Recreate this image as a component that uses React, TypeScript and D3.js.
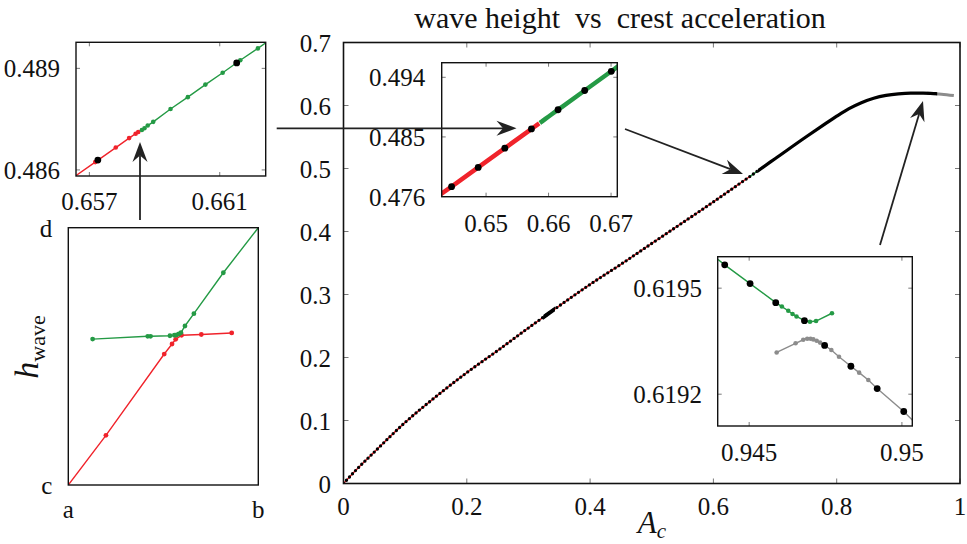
import * as d3 from "d3";
import type { ReactNode } from "react";

const FONT = "Liberation Serif, DejaVu Serif, serif";
const RED = "#f0232b";
const GREEN = "#249a45";
const GRAY = "#8c8c8c";

// ---- main branch: wave height against crest acceleration
const mainA = [0, 0.02, 0.05, 0.1, 0.15, 0.2, 0.25, 0.3, 0.35, 0.4, 0.45, 0.5, 0.55, 0.6, 0.65, 0.7, 0.75, 0.78, 0.8, 0.82, 0.84, 0.86, 0.88, 0.9, 0.92, 0.94, 0.96, 0.97, 0.99];
const mainH = [0, 0.021, 0.05, 0.097, 0.138, 0.176, 0.211, 0.247, 0.282, 0.316, 0.348, 0.381, 0.414, 0.447, 0.4811, 0.5155, 0.55, 0.57, 0.583, 0.595, 0.6045, 0.6115, 0.616, 0.6185, 0.6196, 0.6196, 0.6187, 0.618, 0.6158];

// where the branch changes colour / where the solutions get dense
const redEnd = 0.6585;
const greenEnd = 0.947;
const denseFrom = 0.672;
const denseTo = 0.963;
const clusterFrom = 0.324;
const clusterTo = 0.343;

// ---- close-up of the red -> green switch
const redA = [0.64, 0.64448, 0.64874, 0.653, 0.65718, 0.65781, 0.65822, 0.65842, 0.6585];
const redH = [0.4748, 0.47768, 0.48055, 0.48342, 0.48623, 0.48666, 0.48694, 0.48707, 0.48712];
const greenA = [0.65861, 0.65869, 0.65879, 0.65896, 0.65949, 0.66002, 0.66056, 0.66109, 0.66163, 0.66217, 0.66578, 0.67004, 0.674];
const greenH = [0.48718, 0.48723, 0.48731, 0.48742, 0.4878, 0.48815, 0.48852, 0.48887, 0.48924, 0.48959, 0.49203, 0.4949, 0.4976];
const coarseA = [0.64448, 0.64874, 0.653, 0.65726, 0.66152, 0.66578, 0.67004];
const coarseH = [0.47768, 0.48055, 0.48342, 0.48629, 0.48916, 0.49203, 0.4949];

// ---- close-up of the fold near the maximum
const foldGreenA = [0.94397, 0.9442, 0.94503, 0.94587, 0.94607, 0.94628, 0.94642, 0.94655, 0.94681, 0.94699, 0.94719, 0.94771];
const foldGreenH = [0.619582, 0.619566, 0.619513, 0.619459, 0.619448, 0.619436, 0.619427, 0.61942, 0.619408, 0.619405, 0.619407, 0.619429];
const foldGrayA = [0.9459, 0.94652, 0.94677, 0.9469, 0.94701, 0.9471, 0.94721, 0.94732, 0.94747, 0.94769, 0.94794, 0.94833, 0.9486, 0.9489, 0.94919, 0.95006, 0.95034];
const foldGrayH = [0.619318, 0.619344, 0.619354, 0.619357, 0.619357, 0.619355, 0.619351, 0.619346, 0.619338, 0.619325, 0.619306, 0.619279, 0.619261, 0.61924, 0.619216, 0.619151, 0.619127];
const foldBlackA = [0.9442, 0.94503, 0.94587, 0.94681, 0.94747, 0.94833, 0.94919, 0.95006];
const foldBlackH = [0.619566, 0.619513, 0.619459, 0.619408, 0.619338, 0.619279, 0.619216, 0.619151];

// ---- schematic of the two crossing branches (unit box)
const sketchRedX = [0, 0.198, 0.505, 0.546, 0.565, 0.596, 0.7, 0.86];
const sketchRedY = [0, 0.193, 0.509, 0.548, 0.566, 0.582, 0.585, 0.591];
const sketchGreenX = [0.128, 0.418, 0.433, 0.535, 0.558, 0.57, 0.582, 0.593, 0.614, 0.661, 0.816, 1];
const sketchGreenY = [0.567, 0.578, 0.578, 0.58, 0.582, 0.583, 0.587, 0.592, 0.618, 0.666, 0.825, 1];

// ---- ticks
const mainXTicks = [0, 0.2, 0.4, 0.6, 0.8, 1];
const mainXLabels = ["0", "0.2", "0.4", "0.6", "0.8", "1"];
const mainYTicks = [0, 0.1, 0.2, 0.3, 0.4, 0.5, 0.6, 0.7];
const mainYLabels = ["0", "0.1", "0.2", "0.3", "0.4", "0.5", "0.6", "0.7"];
const midXTicks = [0.65, 0.66, 0.67];
const midXLabels = ["0.65", "0.66", "0.67"];
const midYTicks = [0.4762, 0.4851, 0.494];
const midYLabels = ["0.476", "0.485", "0.494"];
const zoomXTicks = [0.657, 0.661];
const zoomXLabels = ["0.657", "0.661"];
const zoomYTicks = [0.486, 0.489];
const zoomYLabels = ["0.486", "0.489"];
const foldXTicks = [0.945, 0.95];
const foldXLabels = ["0.945", "0.95"];
const foldYTicks = [0.6192, 0.6195];
const foldYLabels = ["0.6192", "0.6195"];
const sketchXLabels = ["a", "b"];
const sketchYLabels = ["c", "d"];

type Pt = [number, number];
type Scale = d3.ScaleLinear<number, number>;
const zip = (a: number[], b: number[]): Pt[] => a.map((v, i) => [v, b[i]]);

type FrameProps = {
  id: string;
  x: Scale;
  y: Scale;
  xTicks: number[];
  xLabels: string[];
  yTicks: number[];
  yLabels: string[];
  tickLen: number;
  xGap: number;
  yGap: number;
  fontSize: number;
  stroke: number;
  children?: ReactNode;
};

// boxed axes with inward ticks on all four sides
function Frame(p: FrameProps) {
  const [left, right] = p.x.range();
  const [bottom, top] = p.y.range();
  const w = right - left;
  const h = bottom - top;
  return (
    <g>
      <defs>
        <clipPath id={p.id}>
          <rect x={left} y={top} width={w} height={h} />
        </clipPath>
      </defs>
      <rect x={left} y={top} width={w} height={h} fill="#fff" />
      <g clipPath={`url(#${p.id})`}>{p.children}</g>
      {p.tickLen > 0 && (
        <g stroke="#6a6a6a" strokeWidth={0.9}>
          {p.xTicks.map((t) => (
            <g key={"x" + t}>
              <line x1={p.x(t)} x2={p.x(t)} y1={bottom} y2={bottom - p.tickLen} />
              <line x1={p.x(t)} x2={p.x(t)} y1={top} y2={top + p.tickLen} />
            </g>
          ))}
          {p.yTicks.map((t) => (
            <g key={"y" + t}>
              <line x1={left} x2={left + p.tickLen} y1={p.y(t)} y2={p.y(t)} />
              <line x1={right} x2={right - p.tickLen} y1={p.y(t)} y2={p.y(t)} />
            </g>
          ))}
        </g>
      )}
      <rect x={left} y={top} width={w} height={h} fill="none" stroke="#111" strokeWidth={p.stroke} />
      <g style={{ fontFamily: FONT }} fontSize={p.fontSize} fill="#111">
        {p.xTicks.map((t, i) => (
          <text key={"xl" + t} x={p.x(t)} y={bottom + p.xGap} textAnchor="middle">
            {p.xLabels[i]}
          </text>
        ))}
        {p.yTicks.map((t, i) => (
          <text key={"yl" + t} x={left - p.yGap} y={p.y(t) + p.fontSize * 0.36} textAnchor="end">
            {p.yLabels[i]}
          </text>
        ))}
      </g>
    </g>
  );
}

function Dots({ pts, x, y, r, fill }: { pts: Pt[]; x: Scale; y: Scale; r: number; fill: string }) {
  return (
    <g fill={fill}>
      {pts.map((d, i) => (
        <circle key={i} cx={x(d[0])} cy={y(d[1])} r={r} />
      ))}
    </g>
  );
}

function Arrow({ x1, y1, x2, y2 }: { x1: number; y1: number; x2: number; y2: number }) {
  const ang = Math.atan2(y2 - y1, x2 - x1);
  const L = 20;
  const half = 7.5;
  const notch = 6.5;
  const back = L - notch;
  return (
    <g>
      <line
        x1={x1}
        y1={y1}
        x2={x2 - back * Math.cos(ang)}
        y2={y2 - back * Math.sin(ang)}
        stroke="#222"
        strokeWidth={1.8}
      />
      <path
        d={`M0,0 L${-L},${-half} L${-back},0 L${-L},${half} Z`}
        transform={`translate(${x2},${y2}) rotate(${(ang * 180) / Math.PI})`}
        fill="#222"
      />
    </g>
  );
}

export default function App() {
  const xMain = d3.scaleLinear([0, 1], [343.5, 960]);
  const yMain = d3.scaleLinear([0, 0.7], [483.5, 42.5]);
  const xMid = d3.scaleLinear([0.6429, 0.671], [441.7, 617.3]);
  const yMid = d3.scaleLinear([0.47618, 0.49618], [196.7, 62.7]);
  const xZoom = d3.scaleLinear([0.65659, 0.66241], [76, 265.7]);
  const yZoom = d3.scaleLinear([0.48582, 0.48977], [176, 42.3]);
  const xFold = d3.scaleLinear([0.94397, 0.95034], [717.7, 912.3]);
  const yFold = d3.scaleLinear([0.61911, 0.619589], [426, 256.7]);
  const xSk = d3.scaleLinear([0, 1], [68.3, 258.3]);
  const ySk = d3.scaleLinear([0, 1], [485, 227.7]);

  const mainPts = zip(mainA, mainH);
  const mainPath =
    d3
      .line<Pt>()
      .x((d) => xMain(d[0]))
      .y((d) => yMain(d[1]))
      .curve(d3.curveMonotoneX)(mainPts) ?? "";

  const lineIn = (x: Scale, y: Scale) =>
    d3
      .line<Pt>()
      .x((d) => x(d[0]))
      .y((d) => y(d[1]));

  const red = zip(redA, redH);
  const green = zip(greenA, greenH);
  const coarse = zip(coarseA, coarseH);
  const fGreen = zip(foldGreenA, foldGreenH);
  const fGray = zip(foldGrayA, foldGrayH);
  const fBlack = zip(foldBlackA, foldBlackH);
  const skRed = zip(sketchRedX, sketchRedY);
  const skGreen = zip(sketchGreenX, sketchGreenY);

  // vertical strips of the main panel, used to colour the branch piecewise
  const strip = (id: string, a: number, b: number) => (
    <clipPath id={id}>
      <rect x={xMain(a)} y={0} width={xMain(b) - xMain(a)} height={544} />
    </clipPath>
  );

  const lMid = lineIn(xMid, yMid);
  const lZoom = lineIn(xZoom, yZoom);
  const lFold = lineIn(xFold, yFold);
  const lSk = lineIn(xSk, ySk);

  return (
    <svg
      width={967}
      height={544}
      viewBox="0 0 967 544"
      style={{ position: "absolute", left: 0, top: 0, background: "#fff", fontFamily: FONT }}
    >
      <defs>
        {strip("seg-red", -0.02, redEnd)}
        {strip("seg-green", redEnd, greenEnd)}
        {strip("seg-gray", greenEnd, 1.02)}
        {strip("seg-dotted", -0.02, denseFrom)}
        {strip("seg-dense", denseFrom, denseTo)}
        {strip("seg-cluster", clusterFrom, clusterTo)}
      </defs>

      <text x={620} y={28} textAnchor="middle" style={{ fontFamily: FONT }} fontSize={30} fill="#111">
        wave height{"\u00a0 "}vs{"\u00a0 "}crest acceleration
      </text>

      {/* main panel */}
      <Frame
        id="clip-main"
        x={xMain}
        y={yMain}
        xTicks={mainXTicks}
        xLabels={mainXLabels}
        yTicks={mainYTicks}
        yLabels={mainYLabels}
        tickLen={5}
        xGap={31}
        yGap={12.5}
        fontSize={25}
        stroke={1.6}
      >
        <path d={mainPath} fill="none" stroke={RED} strokeWidth={1.5} clipPath="url(#seg-red)" />
        <path d={mainPath} fill="none" stroke={GREEN} strokeWidth={1.5} clipPath="url(#seg-green)" />
        <path d={mainPath} fill="none" stroke={GRAY} strokeWidth={3} clipPath="url(#seg-gray)" />
        <path
          d={mainPath}
          fill="none"
          stroke="#000"
          strokeWidth={3.3}
          strokeLinecap="round"
          strokeDasharray="0 4.4"
          clipPath="url(#seg-dotted)"
        />
        <path d={mainPath} fill="none" stroke="#000" strokeWidth={3.3} clipPath="url(#seg-dense)" />
        <path d={mainPath} fill="none" stroke="#000" strokeWidth={4} clipPath="url(#seg-cluster)" />
      </Frame>

      <text x={652} y={533} textAnchor="middle" style={{ fontFamily: FONT }} fill="#111">
        <tspan fontSize={31} fontStyle="italic">A</tspan>
        <tspan fontSize={21} fontStyle="italic" dy={5}>c</tspan>
      </text>

      {/* close-up of the colour switch */}
      <Frame
        id="clip-mid"
        x={xMid}
        y={yMid}
        xTicks={midXTicks}
        xLabels={midXLabels}
        yTicks={midYTicks}
        yLabels={midYLabels}
        tickLen={4}
        xGap={35}
        yGap={16.5}
        fontSize={25}
        stroke={1.4}
      >
        <path d={lMid(red) ?? ""} fill="none" stroke={RED} strokeWidth={4.5} />
        <path d={lMid(green) ?? ""} fill="none" stroke={GREEN} strokeWidth={4.5} />
        <Dots pts={coarse} x={xMid} y={yMid} r={3.4} fill="#000" />
      </Frame>

      {/* finer close-up of the same switch */}
      <Frame
        id="clip-zoom"
        x={xZoom}
        y={yZoom}
        xTicks={zoomXTicks}
        xLabels={zoomXLabels}
        yTicks={zoomYTicks}
        yLabels={zoomYLabels}
        tickLen={4}
        xGap={34}
        yGap={16}
        fontSize={25}
        stroke={1.4}
      >
        <path d={lZoom(red) ?? ""} fill="none" stroke={RED} strokeWidth={1.4} />
        <path d={lZoom(green) ?? ""} fill="none" stroke={GREEN} strokeWidth={1.4} />
        <Dots pts={red} x={xZoom} y={yZoom} r={2.3} fill={RED} />
        <Dots pts={green} x={xZoom} y={yZoom} r={2.3} fill={GREEN} />
        <Dots pts={coarse} x={xZoom} y={yZoom} r={3.4} fill="#000" />
      </Frame>

      {/* fold near the maximum height */}
      <Frame
        id="clip-fold"
        x={xFold}
        y={yFold}
        xTicks={foldXTicks}
        xLabels={foldXLabels}
        yTicks={foldYTicks}
        yLabels={foldYLabels}
        tickLen={4}
        xGap={35}
        yGap={15.7}
        fontSize={25}
        stroke={1.4}
      >
        <path d={lFold(fGreen) ?? ""} fill="none" stroke={GREEN} strokeWidth={1.4} />
        <path d={lFold(fGray) ?? ""} fill="none" stroke={GRAY} strokeWidth={1.4} />
        <Dots pts={fGreen.slice(1)} x={xFold} y={yFold} r={2.3} fill={GREEN} />
        <Dots pts={fGray.slice(0, -1)} x={xFold} y={yFold} r={2.3} fill={GRAY} />
        <Dots pts={fBlack} x={xFold} y={yFold} r={3.4} fill="#000" />
      </Frame>

      {/* schematic of the branch crossing */}
      <Frame
        id="clip-sketch"
        x={xSk}
        y={ySk}
        xTicks={[0, 1]}
        xLabels={sketchXLabels}
        yTicks={[0, 1]}
        yLabels={sketchYLabels}
        tickLen={0}
        xGap={33}
        yGap={16}
        fontSize={25}
        stroke={1.4}
      >
        <path d={lSk(skRed) ?? ""} fill="none" stroke={RED} strokeWidth={1.4} />
        <path d={lSk(skGreen) ?? ""} fill="none" stroke={GREEN} strokeWidth={1.4} />
        <Dots pts={skRed.slice(1)} x={xSk} y={ySk} r={2.4} fill={RED} />
        <Dots pts={skGreen.slice(0, -1)} x={xSk} y={ySk} r={2.4} fill={GREEN} />
      </Frame>

      <text transform="translate(38,347) rotate(-90)" textAnchor="middle" style={{ fontFamily: FONT }} fill="#111">
        <tspan fontSize={34} fontStyle="italic">h</tspan>
        <tspan fontSize={22} dy={7}>wave</tspan>
      </text>

      {/* pointers between the panels */}
      <Arrow x1={140} y1={220} x2={140} y2={142} />
      <Arrow x1={276.7} y1={128.3} x2={516.5} y2={128.3} />
      <Arrow x1={625} y1={129} x2={743} y2={174} />
      <Arrow x1={880} y1={245} x2={923} y2={101} />
    </svg>
  );
}
